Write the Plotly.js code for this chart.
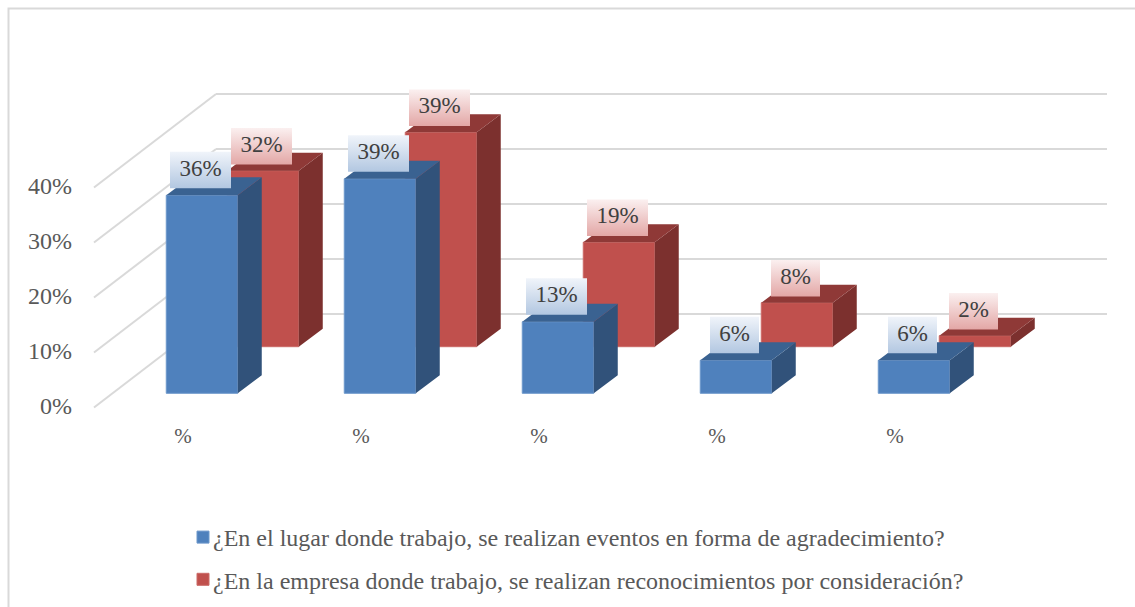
<!DOCTYPE html>
<html>
<head>
<meta charset="utf-8">
<script src="https://cdn.plot.ly/plotly-3.0.1.min.js"></script>
<style>html,body{margin:0;padding:0;background:#fff;overflow:hidden}</style>
</head>
<body>
<div id="chart" style="width:1135px;height:607px"></div>
<script>
// Survey answers, in percent, one value per category
const categoryLabels = ['%', '%', '%', '%', '%'];
const categoryPositions = [0, 1, 2, 3, 4];
const eventValues = [36, 39, 13, 6, 6];
const recognitionValues = [32, 39, 19, 8, 2];
const eventName = '¿En el lugar donde trabajo, se realizan eventos en forma de agradecimiento?';
const recognitionName = '¿En la empresa donde trabajo, se realizan reconocimientos por consideración?';
const gridValues = [0, 10, 20, 30, 40];

// Oblique projection of the bars, expressed in axis units
const pxX = 178, pxY = 5.5;            // pixels per axis unit
const W = 1135, H = 607, L = 75, B = 187;
const originY = 407.5;
const xMin = (L - 183) / pxX, xMax = (W - 183) / pxX;
const yMin = -(H - B - originY) / pxY, yMax = originY / pxY;
const barWidth = 71.5 / pxX;
const barDX = 24 / pxX, barDY = 18 / pxY;
const wallDX = 122 / pxX, wallDY = 93.5 / pxY;
const wallLeft = -89 / pxX, wallRight = (1107 - 183) / pxX;

const SERIF = '"Liberation Serif", "Times New Roman", serif';

const series = [
  { name: recognitionName, values: recognitionValues, shift: 80 / pxX, base: 60.8 / pxY, gap: 6.3 / pxY,
    front: '#c0504d', edge: '#cb6a67', side: '#7c302e', top: '#8f3937', boxTop: '#fbf0f0', boxBottom: '#e3a7a6' },
  { name: eventName, values: eventValues, shift: 19 / pxX, base: 14.2 / pxY, gap: 7 / pxY,
    front: '#4f81bd', edge: '#6d98cb', side: '#31527a', top: '#3a6291', boxTop: '#f0f4fa', boxBottom: '#b2c7e1' }
];

const polygon = pts => pts.concat([pts[0], [null, null]]);

function faceTrace(s, color, build) {
  const pts = [];
  s.values.forEach((v, i) => {
    const xl = categoryPositions[i] + s.shift - barWidth / 2;
    const xr = xl + barWidth;
    pts.push(...polygon(build(xl, xr, s.base, s.base + v)));
  });
  return { type: 'scatter', mode: 'lines', x: pts.map(p => p[0]), y: pts.map(p => p[1]),
    fill: 'toself', fillcolor: color, line: { width: 0, color: color },
    hoverinfo: 'skip', showlegend: false };
}

const bars = series.map((s, k) => ({
  type: 'bar', name: s.name, x: categoryPositions.map(c => c + s.shift), y: s.values,
  base: s.values.map(() => s.base), width: barWidth,
  marker: { color: s.front, line: { color: s.edge, width: 1 } },
  legendgroup: 'g' + k, legendrank: 2 - k, hoverinfo: 'skip'
}));

const faces = [];
series.forEach(s => {
  faces.push(faceTrace(s, s.side, (xl, xr, b, t) => [[xr, b], [xr + barDX, b + barDY], [xr + barDX, t + barDY], [xr, t]]));
  faces.push(faceTrace(s, s.top, (xl, xr, b, t) => [[xl, t], [xl + barDX, t + barDY], [xr + barDX, t + barDY], [xr, t]]));
});

// Data-label plates with their vertical gradient, then the label text on top
const plates = [], labels = [];
series.forEach(s => {
  s.values.forEach((v, i) => {
    const text = v + '%';
    const half = (text.length === 3 ? 30.5 : 24.5) / pxX;
    const cx = categoryPositions[i] + s.shift - 1.5 / pxX;
    const y0 = s.base + v + s.gap, y1 = y0 + 36.5 / pxY;
    plates.push({ type: 'scatter', mode: 'lines',
      x: [cx - half, cx + half, cx + half, cx - half, cx - half], y: [y0, y0, y1, y1, y0],
      fill: 'toself', line: { width: 0 },
      fillgradient: { type: 'vertical', colorscale: [[0, s.boxBottom], [1, s.boxTop]] },
      hoverinfo: 'skip', showlegend: false });
    labels.push({ type: 'scatter', mode: 'text', x: [cx], y: [(y0 + y1) / 2], text: [text],
      textposition: 'middle center', textfont: { family: SERIF, size: 23, color: '#404040' },
      hoverinfo: 'skip', showlegend: false });
  });
});

// Back-wall and side-wall gridlines
const gridStyle = { color: '#d9d9d9', width: 2 };
const shapes = [];
gridValues.forEach(v => {
  shapes.push({ type: 'line', layer: 'below', xref: 'x', yref: 'y', x0: wallLeft, y0: v,
    x1: wallLeft + wallDX, y1: v + wallDY, line: gridStyle });
  shapes.push({ type: 'line', layer: 'below', xref: 'x', yref: 'y', x0: wallLeft + wallDX, y0: v + wallDY,
    x1: wallRight, y1: v + wallDY, line: gridStyle });
});
// Chart frame; its right and bottom sides fall past the page edge
const plotW = W - L, plotH = H - B;
shapes.push({ type: 'rect', layer: 'below', xref: 'paper', yref: 'paper',
  x0: (8.5 - L) / plotW, x1: (W + 6 - L) / plotW, y0: (plotH - H - 6) / plotH, y1: (plotH - 8.5) / plotH,
  line: gridStyle });

const layout = {
  width: W, height: H,
  margin: { l: L, r: 0, t: 0, b: B, pad: 0 },
  paper_bgcolor: '#fff', plot_bgcolor: 'rgba(0,0,0,0)',
  barmode: 'overlay',
  showlegend: true,
  legend: { x: (173 - L) / plotW, xanchor: 'left', y: (plotH - 515) / plotH, yanchor: 'top',
    orientation: 'v', traceorder: 'grouped', tracegroupgap: 8, bgcolor: 'rgba(0,0,0,0)',
    font: { family: SERIF, size: 24, color: '#595959' }, itemclick: false, itemdoubleclick: false },
  xaxis: { range: [xMin, xMax], tickmode: 'array', tickvals: categoryPositions, ticktext: categoryLabels,
    showgrid: false, zeroline: false, showline: false, ticks: '', fixedrange: true, ticklabelstandoff: 1,
    tickfont: { family: SERIF, size: 21, color: '#595959' } },
  // Tick labels sit a little above the front edge of each gridline
  yaxis: { range: [yMin, yMax], tickmode: 'array', tickvals: gridValues.map(v => v + 1.7 / pxY), ticktext: gridValues.map(v => v + '%'),
    showgrid: false, zeroline: false, showline: false, ticks: '', fixedrange: true, ticklabelstandoff: 2,
    tickfont: { family: SERIF, size: 24, color: '#595959' } },
  shapes: shapes
};

Plotly.newPlot('chart', bars.concat(faces, plates, labels), layout, { displayModeBar: false, staticPlot: false })
  .then(() => {
    // Close the gap between each legend swatch and its text
    document.querySelectorAll('#chart .legend .legendpoints').forEach(n => {
      n.setAttribute('transform', 'translate(10,0)');
    });
  });
</script>
</body>
</html>
